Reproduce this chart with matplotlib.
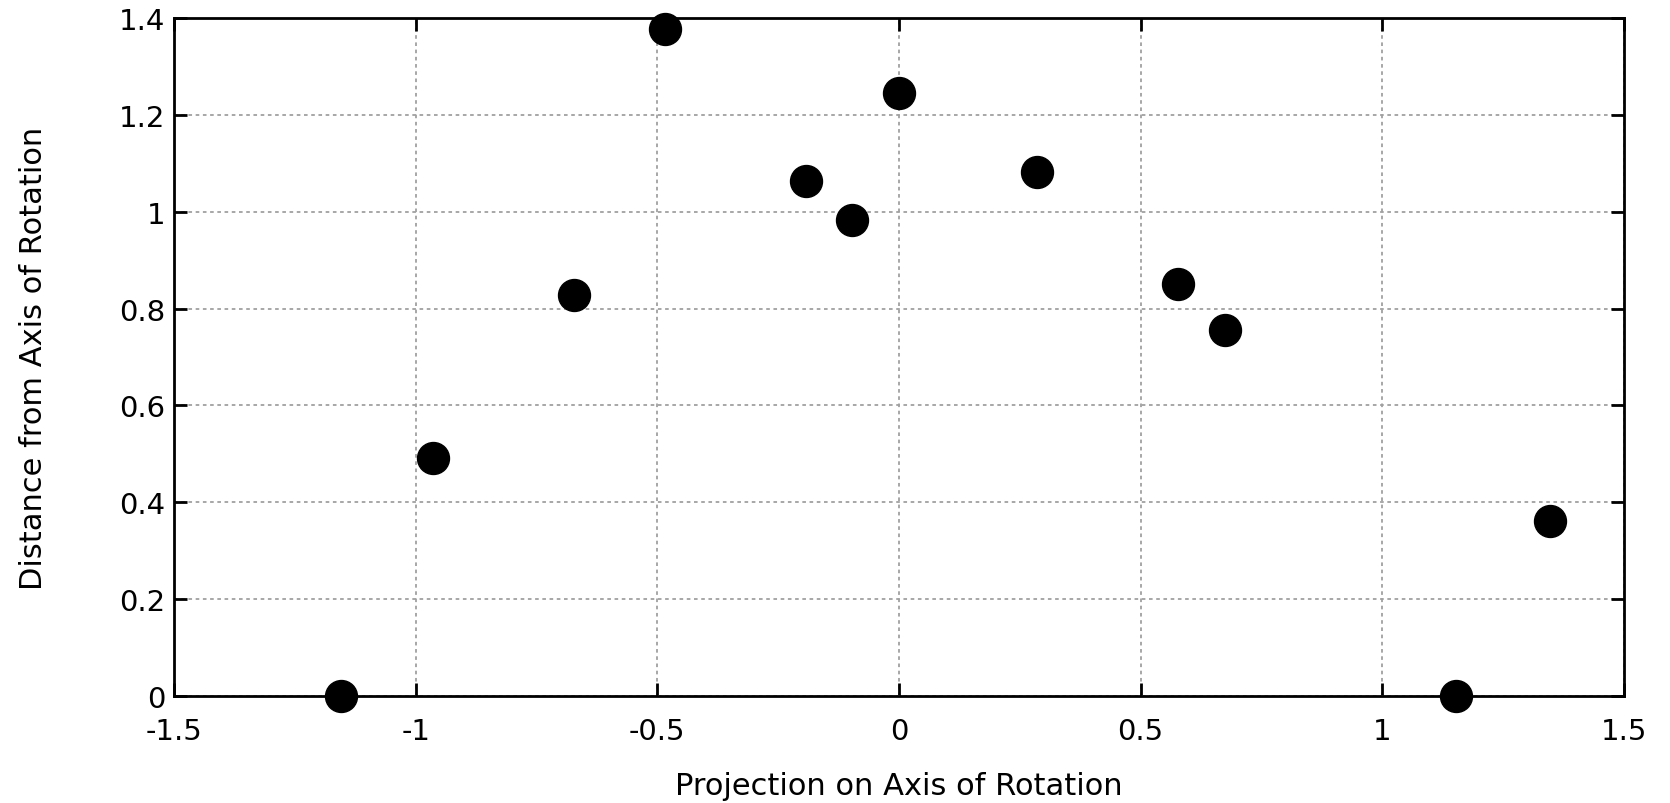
import numpy as np
import matplotlib
matplotlib.use("Agg")
import matplotlib.pyplot as plt

# 各点の座標
proj = [-1.155, -0.965, -0.672, -0.485, -0.192, -0.097, 0.0, 0.286, 0.577, 0.674, 1.152, 1.346]
dist = [0.0, 0.491, 0.828, 1.378, 1.064, 0.982, 1.246, 1.081, 0.850, 0.756, 0.0, 0.361]

x_ticks = [-1.5, -1, -0.5, 0, 0.5, 1, 1.5]
x_labels = ["-1.5", "-1", "-0.5", "0", "0.5", "1", "1.5"]
y_ticks = [0, 0.2, 0.4, 0.6, 0.8, 1, 1.2, 1.4]
y_labels = ["0", "0.2", "0.4", "0.6", "0.8", "1", "1.2", "1.4"]

plt.rcParams['font.family'] = ['DejaVu Sans']

fig = plt.figure(figsize=(16.70, 8.04), dpi=100)
ax = fig.add_axes([174 / 1670, 1 - 697 / 804, (1624 - 174) / 1670, (697 - 19) / 804])

ax.plot(proj, dist, 'o', color='black', markersize=23, clip_on=False, zorder=5)

ax.set_xlim(-1.5, 1.5)
ax.set_ylim(0, 1.4)
ax.set_xticks(x_ticks)
ax.set_xticklabels(x_labels)
ax.set_yticks(y_ticks)
ax.set_yticklabels(y_labels)

ax.grid(True, color='#a0a0a0', linestyle=(0, (2, 2)), linewidth=1.3)
ax.tick_params(direction='in', length=9.5, width=2, top=True, right=True,
               labelsize=21)
ax.tick_params(axis='x', pad=15)
ax.tick_params(axis='y', pad=6)
for s in ax.spines.values():
    s.set_linewidth(2)

ax.set_xlabel('Projection on Axis of Rotation', fontsize=22)
ax.set_ylabel('Distance from Axis of Rotation', fontsize=22)
ax.xaxis.set_label_coords(0.5, -0.11)
ax.yaxis.set_label_coords(-0.087, 0.5)

fig.savefig('out.png', dpi=100)
